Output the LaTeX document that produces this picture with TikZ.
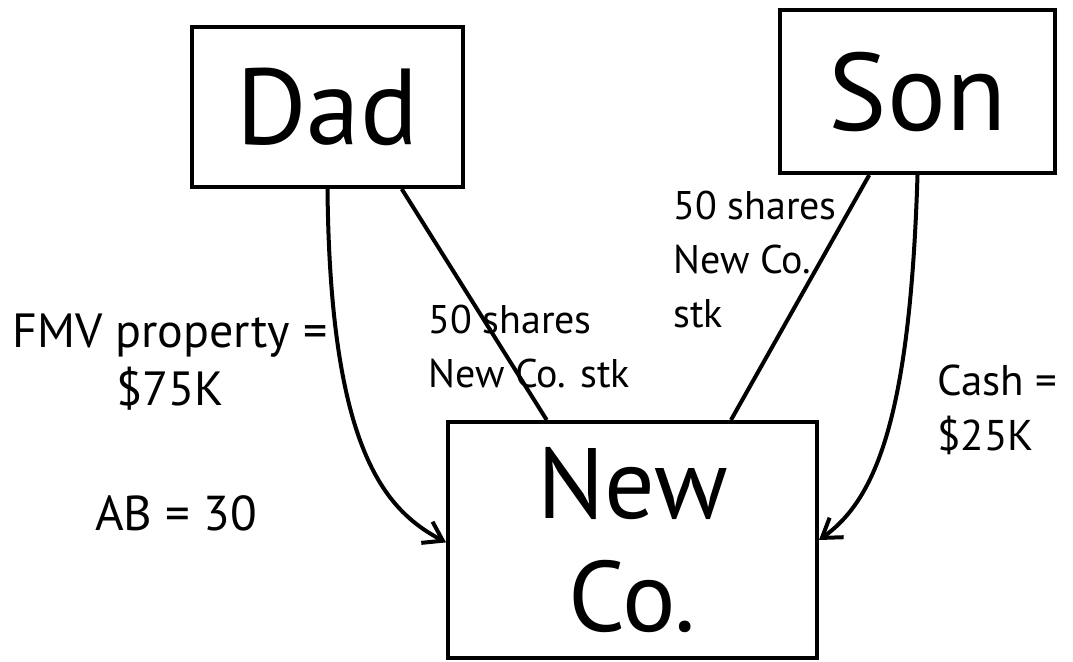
\documentclass[tikz,border=0pt]{standalone}
\usepackage{fontspec}
\setmainfont{PT Sans}
\usetikzlibrary{arrows.meta,calc}
\begin{document}
\begin{tikzpicture}[x=1pt,y=-1pt,
  box/.style={draw, line width=4pt, inner sep=0pt, align=center},
  link/.style={line width=4pt},
  flow/.style={line width=4pt, -{Straight Barb[length=18pt,width=24pt,line width=4pt]}},
  lbl/.style={inner sep=0pt, anchor=base west, align=left}]
\useasboundingbox (0,0) rectangle (1073,661);

% parties
\node[box, minimum width=271pt, minimum height=160pt,
      font=\fontsize{108}{110}\selectfont] (dad) at (327.5,107) {Dad};
\node[box, minimum width=275pt, minimum height=163pt,
      font=\fontsize{110}{112}\selectfont] (son) at (917.5,91.5) {Son};
\node[box, minimum width=369pt, minimum height=236pt,
      font=\fontsize{100}{113}\selectfont] (newco) at (632.5,540) {New\\Co.};

% share issues
\draw[link] ($(dad.south west)!0.77!(dad.south east)$) -- ($(newco.north west)!0.27!(newco.north east)$);
\draw[link] ($(son.south west)!0.327!(son.south east)$) -- ($(newco.north west)!0.764!(newco.north east)$);

% contributions
\draw[flow] (dad.south) .. controls (330,450) and (385,510) .. ($(newco.north west)!0.51!(newco.south west)$);
\draw[flow] (son.south) .. controls (910,420) and (875,500) .. (newco.east);

% labels (multi-line nodes are placed by the baseline of their last line)
\node[inner sep=0pt, anchor=base, align=center,
      font=\fontsize{48}{58}\selectfont] (fmv) at (170,405) {FMV property =\\\$75K};
\node[lbl, font=\fontsize{49}{58}\selectfont] (ab) at (95,530) {AB = 30};
\node[lbl, font=\fontsize{40}{54}\selectfont] (sharesdad) at (428,387) {50 shares\\New Co. stk};
\node[lbl, font=\fontsize{40}{54}\selectfont] (sharesson) at (673,327) {50 shares\\New Co.\\stk};
\node[lbl, font=\fontsize{43}{55}\selectfont] (cash) at (937,450) {Cash =\\\$25K};
\end{tikzpicture}
\end{document}
